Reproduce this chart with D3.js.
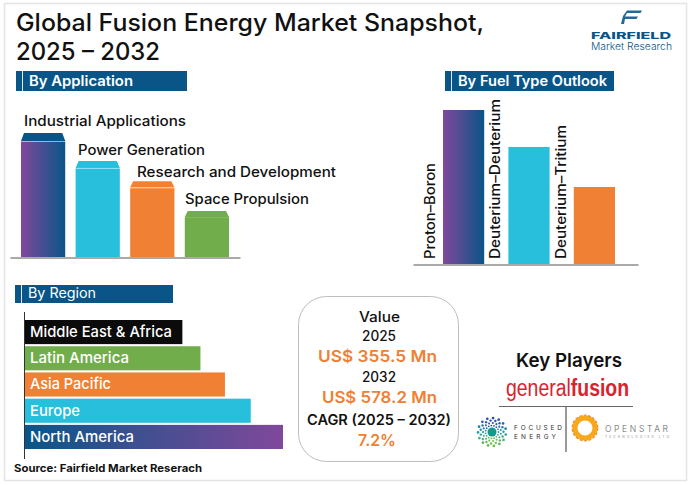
<!DOCTYPE html>
<html>
<head>
<meta charset="utf-8">
<title>Global Fusion Energy Market Snapshot</title>
<script src="https://cdn.jsdelivr.net/npm/d3@7"></script>
<style>
  html, body { margin: 0; padding: 0; background: #fff; }
  svg { display: block; }
  text { font-family: Inter, "Open Sans", sans-serif; }
</style>
</head>
<body>
<div id="chart"></div>
<script>
// values (relative bar lengths, no numeric axis in the original)
var appNames = ['Industrial Applications', 'Power Generation', 'Research and Development', 'Space Propulsion'];
var appValues = [100, 77.5, 61, 37];
var fuelNames = ['Proton\u2013Boron', 'Deuterium\u2013Deuterium', 'Deuterium\u2013Tritium'];
var fuelValues = [100, 76, 50];
var regionNames = ['Middle East & Africa', 'Latin America', 'Asia Pacific', 'Europe', 'North America'];
var regionValues = [61, 68, 77.5, 87.5, 100];

var purple = '#80489c', blue = '#0a5587', cyan = '#27bfdc', orange = '#f08033', green = '#72ad4c';
var w = 691, h = 485;

var svg = d3.select('#chart').append('svg').attr('width', w).attr('height', h);
var defs = svg.append('defs');

function gradient(id, c1, c2) {
  var g = defs.append('linearGradient').attr('id', id);
  g.append('stop').attr('offset', 0).attr('stop-color', c1);
  g.append('stop').attr('offset', 1).attr('stop-color', c2);
}
gradient('pb', purple, blue);
gradient('bp', blue, purple);

// text fitted to the width it has in the reference
function txt(s, x, y, size, weight, fill, len, parent) {
  var t = (parent || svg).append('text')
    .attr('x', x).attr('y', y)
    .attr('font-size', size).attr('font-weight', weight).attr('fill', fill)
    .text(s);
  if (len) t.attr('textLength', len).attr('lengthAdjust', 'spacingAndGlyphs');
  return t;
}

function header(s, x, y, bw, bh, tx, ty, tw, weight) {
  svg.append('rect').attr('x', x).attr('y', y).attr('width', bw).attr('height', bh).attr('fill', blue);
  svg.append('rect').attr('x', x + 6).attr('y', y).attr('width', 1).attr('height', bh).attr('fill', '#dfe9f0');
  txt(s, tx, ty, 14, weight, '#fff', tw);
}

// frame
svg.append('rect').attr('x', 4.5).attr('y', 3.5).attr('width', 682).attr('height', 477)
  .attr('fill', '#fff').attr('stroke', '#e4e4e4').attr('stroke-width', 1.5);

// title
txt('Global Fusion Energy Market Snapshot,', 16, 31, 24, 500, '#111', 468);
txt('2025 \u2013 2032', 16, 60, 24, 500, '#111', 144);

// logo
svg.append('path').attr('d', 'M627 10.5L642 10.5L640.5 13L627 13L625 16.5L638 16.5L636.5 19L625 19L624 24L621 24L623 16Z').attr('fill', '#1f6a98');
txt('FAIRFIELD', 591, 39, 9.5, 800, blue, 80);
txt('Market Research', 591, 50, 10.5, 300, blue, 81);

// --- By Application
header('By Application', 16, 71, 171, 20, 29, 86, 104, 600);

var appX = d3.scaleBand().domain(appNames).range([21, 229]).paddingInner(0.19);
var appY = d3.scaleLinear().domain([0, 100]).range([257, 133]);
var appColors = ['url(#pb)', cyan, orange, green];
var capColors = [blue, cyan, orange, green];
var capHeights = [8, 7, 6, 6];
var appLabelX = [24, 78, 137, 185], appLabelW = [162, 127, 199, 124], appLabelGap = [7, 6, 4, 7];

var appBars = svg.append('g').selectAll('g').data(appNames).enter().append('g');
appBars.append('rect')
  .attr('x', function(d) { return appX(d); })
  .attr('y', function(d, i) { return appY(appValues[i]) + capHeights[i]; })
  .attr('width', appX.bandwidth())
  .attr('height', function(d, i) { return appY(0) - appY(appValues[i]) - capHeights[i]; })
  .attr('fill', function(d, i) { return appColors[i]; });
// chamfered cap on top of each bar
appBars.append('path')
  .attr('d', function(d, i) {
    var x0 = appX(d), x1 = x0 + appX.bandwidth(), y0 = appY(appValues[i]), y1 = y0 + capHeights[i];
    return 'M' + (x0 + 3) + ' ' + y0 + 'L' + (x1 - 3) + ' ' + y0 + 'L' + x1 + ' ' + y1 + 'L' + x0 + ' ' + y1 + 'Z';
  })
  .attr('fill', function(d, i) { return capColors[i]; });
appBars.filter(function(d, i) { return i < 3; }).append('rect')
  .attr('x', function(d) { return appX(d); })
  .attr('y', function(d) { var i = appNames.indexOf(d); return appY(appValues[i]) + capHeights[i]; })
  .attr('width', appX.bandwidth())
  .attr('height', 1)
  .attr('fill', '#fff').attr('opacity', 0.55);
appBars.each(function(d, i) {
  txt(d, appLabelX[i], appY(appValues[i]) - appLabelGap[i], 14, 550, '#111', appLabelW[i], d3.select(this));
});

function baseline(x0, x1, y) {
  var axis = d3.axisBottom(d3.scaleLinear().range([x0, x1])).tickValues([]).tickSizeOuter(0);
  var g = svg.append('g').attr('transform', 'translate(0,' + y + ')').call(axis);
  g.select('.domain').attr('stroke', '#555').attr('stroke-width', 1);
}
baseline(10, 240, 257.5);

// --- By Fuel Type
header('By Fuel Type Outlook', 445, 71, 169, 20, 458, 86, 149, 600);

var fuelX = d3.scaleBand().domain(fuelNames).range([443, 615]).paddingInner(0.37);
var fuelY = d3.scaleLinear().domain([0, 100]).range([264, 110]);
var fuelColors = ['url(#pb)', cyan, orange];
var fuelLabelW = [96, 160, 134];

svg.append('g').selectAll('rect').data(fuelNames).enter().append('rect')
  .attr('x', function(d) { return fuelX(d); })
  .attr('y', function(d, i) { return fuelY(fuelValues[i]); })
  .attr('width', fuelX.bandwidth())
  .attr('height', function(d, i) { return fuelY(0) - fuelY(fuelValues[i]); })
  .attr('fill', function(d, i) { return fuelColors[i]; });
fuelNames.forEach(function(d, i) {
  var g = svg.append('g').attr('transform', 'translate(' + (fuelX(d) - 8) + ',259) rotate(-90)');
  txt(d, 0, 0, 14, 550, '#111', fuelLabelW[i], g);
});
baseline(413, 638, 264.5);

// --- By Region
header('By Region', 15, 285, 158, 18, 28, 298, 68, 400);

var regionY = d3.scaleBand().domain(regionNames).range([320, 449]).paddingInner(0.08);
var regionX = d3.scaleLinear().domain([0, 100]).range([25, 283]);
var regionColors = ['#0b0b0b', green, orange, cyan, 'url(#bp)'];
var regionLabelW = [142, 99, 81, 50, 104];

svg.append('g').selectAll('rect').data(regionNames).enter().append('rect')
  .attr('x', regionX(0))
  .attr('y', function(d) { return regionY(d); })
  .attr('width', function(d, i) { return regionX(regionValues[i]) - regionX(0); })
  .attr('height', regionY.bandwidth())
  .attr('fill', function(d, i) { return regionColors[i]; });
regionNames.forEach(function(d, i) {
  txt(d, 30, regionY(d) + 17, 15, 550, '#fff', regionLabelW[i]);
});
svg.append('line').attr('x1', 24.5).attr('x2', 24.5).attr('y1', 312).attr('y2', 459)
  .attr('stroke', '#333').attr('stroke-width', 1);

txt('Source: Fairfield Market Reserach', 14, 472, 10.5, 700, '#111', 188);

// --- value box
svg.append('rect').attr('x', 298.5).attr('y', 296.5).attr('width', 160).attr('height', 165).attr('rx', 28)
  .attr('fill', '#fff').attr('stroke', '#bdbdbd');
txt('Value', 359, 322, 14, 550, '#111', 41);
txt('2025', 362, 341, 14, 550, '#111', 34);
txt('US$ 355.5 Mn', 318, 362, 16.5, 600, orange, 119);
txt('2032', 362, 382, 14, 550, '#111', 34);
txt('US$ 578.2 Mn', 322, 403, 16.5, 600, orange, 115);
txt('CAGR (2025 \u2013 2032)', 307, 425, 14, 600, '#111', 144);
txt('7.2%', 358, 446, 16.5, 600, orange, 38);

// --- key players
txt('Key Players', 516, 367, 19, 600, '#111', 106);
// wordmark squeezed sideways with a transform, one text element
var gf = svg.append('text').attr('transform', 'translate(506,396) scale(0.81,1)')
  .attr('font-size', 24).attr('fill', '#d9232e')
  .style('font-family', '"Liberation Sans"');
gf.append('tspan').attr('font-weight', 400).text('general');
gf.append('tspan').attr('font-weight', 700).text('fusion');
svg.append('line').attr('x1', 499).attr('x2', 633).attr('y1', 406.5).attr('y2', 406.5).attr('stroke', '#666');
svg.append('line').attr('x1', 566).attr('x2', 566).attr('y1', 407).attr('y2', 452).attr('stroke', '#777').attr('stroke-width', 1.5);

// focused energy dot mark
var dotColor = d3.scaleLinear().domain([0, 0.5, 1]).range(['#2b4fa8', '#1f9bb0', '#6cc04a']);
var focus = svg.append('g').attr('transform', 'translate(492,432)');
focus.append('circle').attr('r', 4.5).attr('fill', '#12998f');
[6.5, 9, 11.5, 14].forEach(function(r, k) {
  d3.range(15).forEach(function(j) {
    var a = j / 15 * 2 * Math.PI + k * 0.2;
    focus.append('circle')
      .attr('cx', r * Math.cos(a)).attr('cy', r * Math.sin(a)).attr('r', 0.9 + k * 0.15)
      .attr('fill', dotColor((Math.sin(a) + 1) / 2));
  });
});
txt('FOCUSED', 514, 430, 6.5, 400, '#333').attr('textLength', 48).attr('lengthAdjust', 'spacing');
txt('ENERGY', 514, 439, 6.5, 400, '#333').attr('textLength', 42).attr('lengthAdjust', 'spacing');

// openstar ring
var star = svg.append('g').attr('transform', 'translate(585,428)');
star.append('circle').attr('r', 10).attr('fill', 'none').attr('stroke', '#f7a81b').attr('stroke-width', 5);
star.append('circle').attr('r', 12.8).attr('fill', 'none').attr('stroke', '#f08a24').attr('stroke-width', 1.2).attr('stroke-dasharray', '3 1.5');
txt('OPENSTAR', 605, 432, 8.5, 300, '#666').attr('textLength', 63).attr('lengthAdjust', 'spacing');
txt('TECHNOLOGIES LTD', 605, 438, 3.2, 400, '#888').attr('textLength', 64).attr('lengthAdjust', 'spacing');
</script>
</body>
</html>
